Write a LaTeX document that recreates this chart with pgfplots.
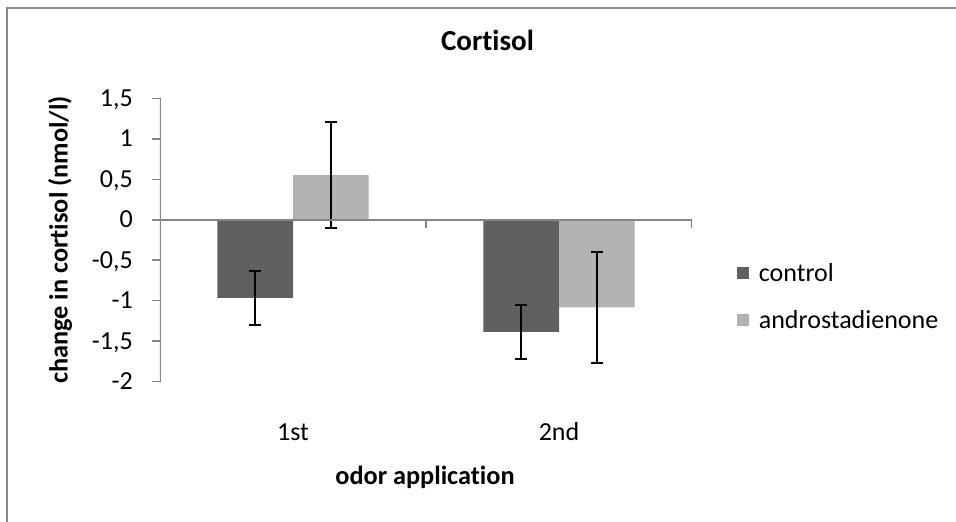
\documentclass[border=0pt]{standalone}
\usepackage{fontspec}
\setmainfont{Carlito}[Ligatures={NoCommon,NoRequired,NoContextual}]
\usepackage{pgfplots}
\pgfplotsset{compat=1.18}
\newcommand\nti{t\kern0pt i}
\definecolor{ctrl}{HTML}{606060}
\definecolor{andro}{HTML}{B2B2B2}
\definecolor{axgray}{HTML}{868686}
\definecolor{framegray}{HTML}{8C8C8C}
\begin{document}
\begin{tikzpicture}
\useasboundingbox (0pt,0pt) rectangle (956pt,522pt);
\draw[framegray, line width=1.5pt] (7pt,-5pt) -- (7pt,514pt) -- (970pt,514pt);
\begin{axis}[
  at={(160pt,140.3pt)}, anchor=south west,
  scale only axis, width=532pt, height=283.4pt,
  xmin=-0.5, xmax=1.5, ymin=-2, ymax=1.5,
  axis line style={draw=none},
  ybar, bar width=0.284,
  xtick={0,1}, xticklabels={1st,2nd},
  ytick={-2,-1.5,-1,-0.5,0,0.5,1,1.5},
  /pgf/number format/use comma,
  /pgf/number format/assume math mode=true,
  tick align=outside, major tick length=8pt,
  xtick pos=bottom, ytick pos=left,
  xtick style={draw=none},
  ytick style={draw=axgray, line width=1.5pt},
  tick label style={font=\fontsize{26}{30}\selectfont},
  yticklabel style={anchor=east, inner sep=0pt, text height=16pt, text depth=0pt, xshift=-19pt},
  xticklabel style={anchor=base, inner sep=0pt, yshift=-51pt},
  title={Cor\nti sol},
  title style={at={(axis description cs:0.6156,1.1468)}, anchor=base, font=\fontsize{29}{34}\selectfont\bfseries},
  xlabel={odor applica\nti on},
  xlabel style={at={(axis description cs:0.4981,-0.3645)}, anchor=base, font=\fontsize{26.3}{30}\selectfont\bfseries},
  ylabel={change in cor\nti sol (nmol/l)},
  ylabel style={at={(axis description cs:-0.188,0.5)}, anchor=center, rotate=0, font=\fontsize{26.3}{30}\selectfont\bfseries},
  legend style={draw=none, fill=none, at={(axis description cs:1.084,0.30)}, anchor=west,
    font=\fontsize{26}{30}\selectfont, row sep=24pt, inner sep=0pt,
    /tikz/every odd column/.append style={column sep=8pt}},
  legend cell align=left,
]
\addplot[fill=ctrl, draw=none, bar shift=-0.142,
  legend image code/.code={\fill[ctrl] (0pt,-6pt) rectangle (12pt,6pt);},
  error bars/.cd, y dir=both, y explicit,
  error bar style={draw=black, line width=2pt},
  error mark options={draw=black, rotate=90, mark size=6pt, line width=2pt}]
  coordinates {(0,-0.965) +- (0,0.33) (1,-1.385) +- (0,0.33)};
\addplot[fill=andro, draw=none, bar shift=0.142,
  legend image code/.code={\fill[andro] (0pt,-6pt) rectangle (12pt,6pt);},
  error bars/.cd, y dir=both, y explicit,
  error bar style={draw=black, line width=2pt},
  error mark options={draw=black, rotate=90, mark size=6pt, line width=2pt}]
  coordinates {(0,0.55) +- (0,0.653) (1,-1.083) +- (0,0.685)};
\legend{control, androstadienone}
\draw[axgray, line width=1.5pt] (axis cs:-0.5,-2) -- (axis cs:-0.5,1.5);
\draw[axgray, line width=1.5pt] (axis cs:-0.5,0) -- (axis cs:1.5,0);
\draw[axgray, line width=1.5pt] (axis cs:0.5,0) -- ++(0pt,-8pt);
\draw[axgray, line width=1.5pt] (axis cs:1.5,0) -- ++(0pt,-8pt);
\end{axis}
\end{tikzpicture}
\end{document}
